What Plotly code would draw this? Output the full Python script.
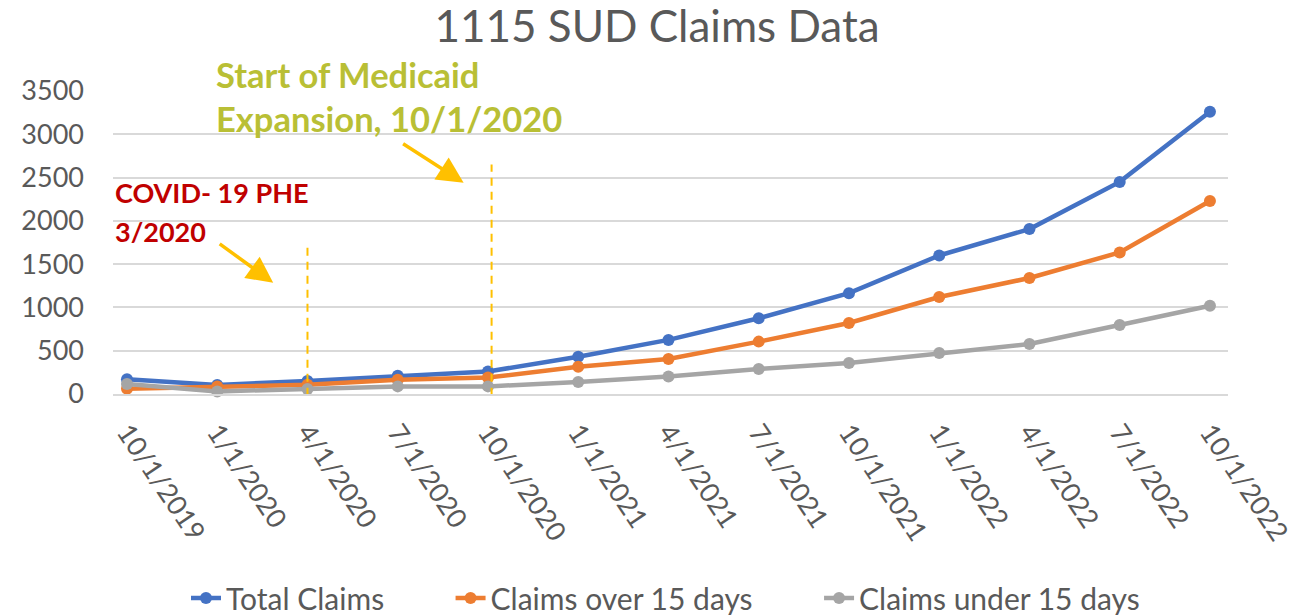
import plotly.graph_objects as go

dates = ["10/1/2019", "1/1/2020", "4/1/2020", "7/1/2020", "10/1/2020", "1/1/2021",
         "4/1/2021", "7/1/2021", "10/1/2021", "1/1/2022", "4/1/2022", "7/1/2022", "10/1/2022"]
total_claims = [170, 105, 150, 210, 260, 430, 625, 875, 1165, 1600, 1905, 2450, 3260]
claims_over_15 = [60, 88, 107, 165, 190, 315, 405, 605, 820, 1120, 1340, 1635, 2230]
claims_under_15 = [115, 30, 58, 88, 88, 138, 203, 288, 358, 473, 577, 797, 1020]
y_ticks = [0, 500, 1000, 1500, 2000, 2500, 3000, 3500]

FONT = "Lato, 'Open Sans', sans-serif"
TXT = "#595959"
YEL = "#FFC000"
PAD = "&nbsp;" * 8

xi = list(range(len(dates)))
fig = go.Figure()
for name, vals, col, pad in [("Total Claims", total_claims, "#4472C4", PAD),
                             ("Claims over 15 days", claims_over_15, "#ED7D31", PAD),
                             ("Claims under 15 days", claims_under_15, "#A5A5A5", "")]:
    fig.add_trace(go.Scatter(x=xi, y=vals, name=name + pad, mode="lines+markers",
                             line=dict(color=col, width=4.5),
                             marker=dict(color=col, size=12),
                             cliponaxis=False))

# dashed event lines
fig.add_shape(type="line", x0=2, x1=2, y0=-20, y1=1750, xref="x", yref="y",
              line=dict(color=YEL, width=2, dash="8px,6px"))
fig.add_shape(type="line", x0=4.04, x1=4.04, y0=-20, y1=2650, xref="x", yref="y",
              line=dict(color=YEL, width=2, dash="8px,6px"))

ann = []
# arrows
ann.append(dict(x=1.62, y=1285, ax=-55, ay=-40, xref="x", yref="y", text="",
                showarrow=True, arrowhead=2, arrowsize=1.5, arrowwidth=3.5, arrowcolor=YEL))
ann.append(dict(x=3.73, y=2440, ax=-62, ay=-40, xref="x", yref="y", text="",
                showarrow=True, arrowhead=2, arrowsize=1.5, arrowwidth=3.5, arrowcolor=YEL))
# texts (paper coordinates)
ann.append(dict(x=0.0, y=0.664, xref="paper", yref="paper", text="<b>COVID- 19 PHE</b>",
                showarrow=False, xanchor="left", yanchor="middle",
                font=dict(family=FONT, size=27, color="#C00000")))
ann.append(dict(x=0.0, y=0.535, xref="paper", yref="paper", text="<b>3/2020</b>",
                showarrow=False, xanchor="left", yanchor="middle",
                font=dict(family=FONT, size=27, color="#C00000")))
ann.append(dict(x=0.0906, y=1.056, xref="paper", yref="paper", text="<b>Start of Medicaid</b>",
                showarrow=False, xanchor="left", yanchor="middle",
                font=dict(family=FONT, size=34.5, color="#B9BF35")))
ann.append(dict(x=0.0906, y=0.909, xref="paper", yref="paper", text="<b>Expansion, 10/1/2020</b>",
                showarrow=False, xanchor="left", yanchor="middle",
                font=dict(family=FONT, size=34.5, color="#B9BF35")))

W, H = 1298, 608  # page body has an 8px margin
fig.update_layout(
    width=W, height=H,
    margin=dict(l=105, r=78, t=83, b=222, autoexpand=False),
    paper_bgcolor="white", plot_bgcolor="white",
    font=dict(family=FONT, color=TXT),
    title=dict(text="1115 SUD Claims Data", x=0.5, xanchor="center", xref="container",
               y=1 - 19 / H, yanchor="middle", yref="container",
               font=dict(family=FONT, size=44, color=TXT)),
    showlegend=True,
    legend=dict(orientation="h", x=178 / W, xanchor="left", xref="container",
                y=18 / H, yanchor="middle", yref="container",
                font=dict(family=FONT, size=30, color=TXT)),
    annotations=ann,
)
fig.update_xaxes(range=[-0.155, 12.2], tickmode="array", tickvals=xi, ticktext=dates,
                 tickangle=56, tickfont=dict(family=FONT, size=27, color=TXT),
                 showgrid=False, zeroline=False, showline=True, linecolor="#D9D9D9",
                 linewidth=1.5, ticks="", ticklabelstandoff=10, automargin=False)
fig.update_yaxes(range=[0, 3500], tickmode="array", tickvals=y_ticks,
                 tickfont=dict(family=FONT, size=27, color=TXT),
                 showgrid=True, gridcolor="#D9D9D9", gridwidth=1.5, zeroline=False,
                 ticks="", ticklabelstandoff=28, automargin=False)

fig.write_html("out.html")
